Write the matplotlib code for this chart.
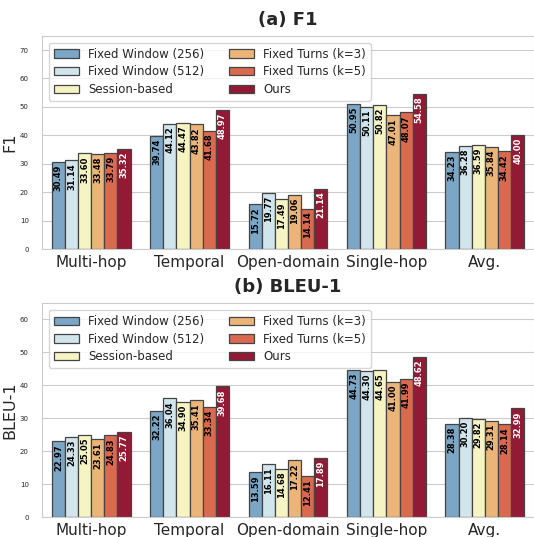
import matplotlib
matplotlib.use("Agg")
import matplotlib.pyplot as plt
import seaborn as sns
import numpy as np

categories = ["Multi-hop", "Temporal", "Open-domain", "Single-hop", "Avg."]
methods = ["Fixed Window (256)", "Fixed Window (512)", "Session-based",
           "Fixed Turns (k=3)", "Fixed Turns (k=5)", "Ours"]
colors = ["#7ba6c6", "#d1e5ec", "#f7f4c3", "#ebb57a", "#d9694f", "#931a34"]

# rows = methods, columns = categories
f1_scores = [
    [30.49, 39.74, 15.72, 50.95, 34.23],
    [31.14, 44.12, 19.77, 50.11, 36.28],
    [33.60, 44.47, 17.49, 50.82, 36.59],
    [33.48, 43.82, 19.06, 47.01, 35.84],
    [33.79, 41.68, 14.14, 48.07, 34.42],
    [35.32, 48.97, 21.14, 54.58, 40.00],
]
bleu_scores = [
    [22.97, 32.22, 13.59, 44.73, 28.38],
    [24.33, 36.04, 16.11, 44.30, 30.20],
    [25.05, 34.90, 14.68, 44.65, 29.82],
    [23.61, 35.41, 17.22, 41.00, 29.31],
    [24.83, 33.34, 12.41, 41.99, 28.14],
    [25.77, 39.68, 17.89, 48.62, 32.99],
]


def draw_panel(ax, scores, title, ylabel, ymax):
    x = np.arange(len(categories))
    w = 0.8 / len(methods)
    for i, (name, vals) in enumerate(zip(methods, scores)):
        pos = x + (i - 2.5) * w
        bars = ax.bar(pos, vals, w, label=name, color=colors[i],
                      edgecolor="#444444", linewidth=0.9)
        txt_color = "white" if name == "Ours" else "black"
        for b, v in zip(bars, vals):
            ax.annotate(f"{v:.2f}", (b.get_x() + b.get_width() / 2, v),
                        xytext=(0, -2), textcoords="offset points",
                        rotation=90, ha="center", va="top",
                        fontsize=6, fontweight="bold", color=txt_color)
    ax.set_xticks(x)
    ax.set_xticklabels(categories, fontsize=11)
    ax.tick_params(axis="y", labelsize=5, pad=6)
    ax.tick_params(axis="x", pad=0.5)
    ax.set_xlim(-0.5, 4.5)
    ax.set_ylim(0, ymax)
    ax.set_ylabel(ylabel, fontsize=11.5)
    ax.yaxis.set_label_coords(-0.05, 0.5)
    ax.set_title(title, fontsize=13, fontweight="bold", pad=8)
    ax.grid(axis="x", visible=False)
    ax.legend(loc="upper left", ncol=2, fontsize=8.5, columnspacing=2.1,
              handlelength=2.1, labelspacing=0.4, borderaxespad=0.6)


sns.set_style("whitegrid")
plt.rcParams["font.family"] = ["DejaVu Sans"]

fig = plt.figure(figsize=(5.34, 5.37), dpi=100)
ax1 = fig.add_axes([0.0787, 0.5363, 0.9213, 0.397])
ax2 = fig.add_axes([0.0787, 0.0372, 0.9213, 0.3986])

draw_panel(ax1, f1_scores, "(a) F1", "F1", 75)
draw_panel(ax2, bleu_scores, "(b) BLEU-1", "BLEU-1", 65)

fig.savefig("out.png", dpi=100)
